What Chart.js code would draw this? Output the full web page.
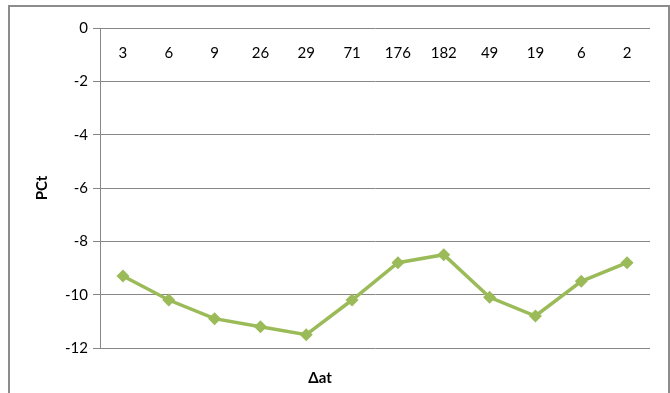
<!DOCTYPE html>
<html>
<head>
<meta charset="utf-8">
<script src="https://cdn.jsdelivr.net/npm/chart.js@4/dist/chart.umd.min.js"></script>
<style>
  html, body { margin: 0; padding: 0; background: #fff; }
  #wrap { position: relative; width: 670px; height: 393px; overflow: hidden; }
  #frame { position: absolute; left: 8px; top: 5px; width: 662px; height: 400px;
           border: 2px solid #8c8c8c; box-sizing: border-box; }
  canvas { position: absolute; left: 0; top: 0; }
</style>
</head>
<body>
<div id="wrap">
  <div id="frame"></div>
  <canvas id="c" width="670" height="393"></canvas>
</div>
<script>
// Δat categories along the top axis
const categories = ['3', '6', '9', '26', '29', '71', '176', '182', '49', '19', '6', '2'];
// PCt per category
const pctValues = [-9.3, -10.2, -10.9, -11.2, -11.5, -10.2, -8.8, -8.5, -10.1, -10.8, -9.5, -8.8];
// value axis ticks
const yTicks = [0, -2, -4, -6, -8, -10, -12];

const FONT = 'Lato, "Open Sans", "Liberation Sans", sans-serif';
const GRID = '#878787';
const GREEN = '#9bbb59';

// bottom axis caption, placed under the plot
const xCaption = {
  id: 'xCaption',
  afterDraw(chart) {
    const ctx = chart.ctx;
    ctx.save();
    ctx.font = 'bold 15px ' + FONT;
    ctx.fillStyle = '#000';
    ctx.textAlign = 'center';
    ctx.textBaseline = 'middle';
    ctx.fillText('Δat', 320, 378);
    ctx.restore();
  }
};

new Chart(document.getElementById('c'), {
  type: 'line',
  data: {
    labels: categories,
    datasets: [{
      data: pctValues,
      borderColor: GREEN,
      backgroundColor: GREEN,
      borderWidth: 3.5,
      tension: 0,
      pointStyle: 'rectRot',
      pointRadius: 6.5,
      pointHoverRadius: 6.5,
      pointBorderWidth: 0,
      pointBackgroundColor: GREEN
    }]
  },
  plugins: [xCaption],
  options: {
    responsive: false,
    animation: false,
    devicePixelRatio: 1,
    layout: { padding: { left: 0, right: 20, top: 28, bottom: 45 } },
    plugins: { legend: { display: false }, tooltip: { enabled: false } },
    scales: {
      x: {
        position: { y: 0 },
        offset: true,
        grid: { display: false },
        border: { display: false },
        ticks: {
          color: '#000',
          font: { family: FONT, size: 15 },
          padding: 8,
          maxRotation: 0,
          autoSkip: false
        }
      },
      y: {
        min: -12,
        max: 0,
        afterFit(scale) { scale.width = 100; },
        afterBuildTicks(scale) { scale.ticks = yTicks.map(v => ({ value: v })); },
        grid: { color: GRID, lineWidth: 1, tickLength: 7, drawTicks: true },
        border: { color: GRID, width: 1 },
        ticks: {
          color: '#000',
          font: { family: FONT, size: 15 },
          padding: 5
        },
        title: {
          display: true,
          text: 'PCt',
          color: '#000',
          font: { family: FONT, size: 15, weight: 'bold' },
          padding: { top: 33, bottom: 0 }
        }
      }
    }
  }
});
</script>
</body>
</html>
